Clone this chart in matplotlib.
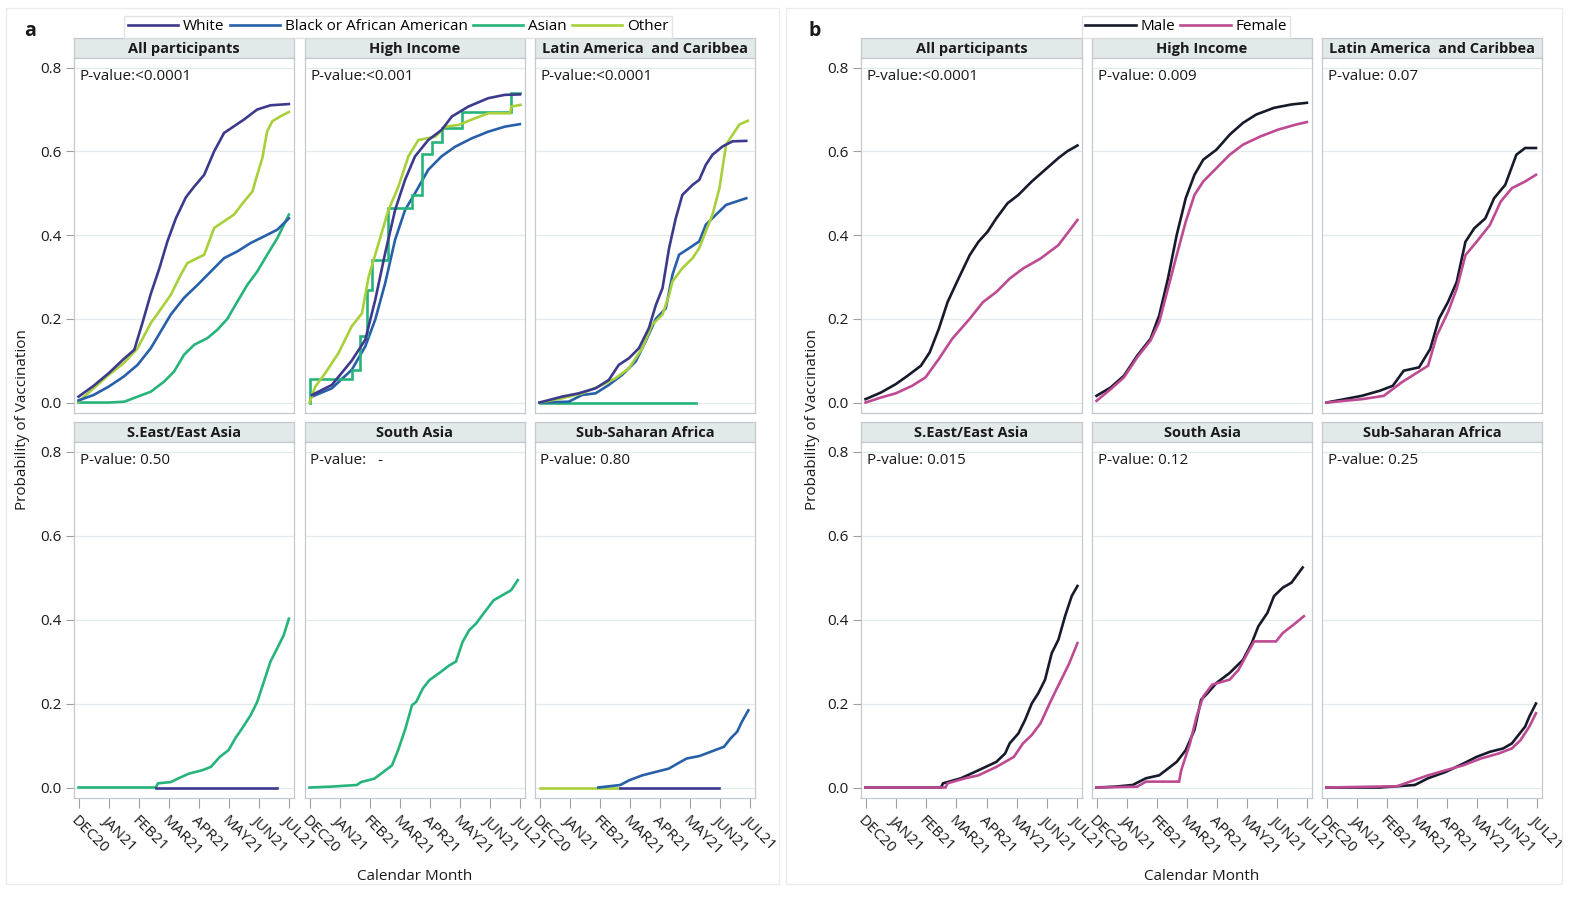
import matplotlib
matplotlib.use("Agg")
import matplotlib.pyplot as plt
from matplotlib.lines import Line2D
from matplotlib.patches import Rectangle

plt.rcParams['font.family'] = ['Open Sans', 'DejaVu Sans']

# ---------------- data (x = months since DEC20, y = probability) ----------------
month_labels = ["DEC20", "JAN21", "FEB21", "MAR21", "APR21", "MAY21", "JUN21", "JUL21"]
y_ticks = [0.0, 0.2, 0.4, 0.6, 0.8]

race_groups = ["White", "Black or African American", "Asian", "Other"]
race_colors = ["#3c3a8c", "#2760a9", "#27b47a", "#a7d03a"]
sex_groups = ["Male", "Female"]
sex_colors = ["#161a2b", "#bd4a92"]

region_titles = ["All participants", "High Income", "Latin America  and Caribbea",
                 "S.East/East Asia", "South Asia", "Sub-Saharan Africa"]
pvals_a = ["P-value:<0.0001", "P-value:<0.001", "P-value:<0.0001",
           "P-value: 0.50", "P-value:   -", "P-value: 0.80"]
pvals_b = ["P-value:<0.0001", "P-value: 0.009", "P-value: 0.07",
           "P-value: 0.015", "P-value: 0.12", "P-value: 0.25"]

# Panel a - All participants
a_all_white_m = [0, 0.5, 1, 1.5, 1.85, 2.12, 2.4, 2.68, 2.95, 3.23, 3.56, 3.84, 4.17, 4.5, 4.83, 5.16, 5.49, 5.93, 6.37, 6.98]
a_all_white_p = [0.014, 0.04, 0.07, 0.104, 0.126, 0.19, 0.26, 0.32, 0.385, 0.44, 0.49, 0.516, 0.544, 0.60, 0.644, 0.66, 0.676, 0.70, 0.71, 0.713]
a_all_black_m = [0, 0.5, 1.0, 1.5, 1.96, 2.4, 2.73, 3.06, 3.5, 3.95, 4.39, 4.83, 5.27, 5.71, 6.16, 6.6, 6.98]
a_all_black_p = [0.005, 0.018, 0.038, 0.062, 0.09, 0.13, 0.17, 0.21, 0.25, 0.281, 0.313, 0.345, 0.361, 0.381, 0.397, 0.413, 0.44]
a_all_asian_m = [0, 1.0, 1.52, 1.96, 2.4, 2.84, 3.17, 3.5, 3.84, 4.28, 4.61, 4.94, 5.27, 5.6, 5.93, 6.26, 6.6, 6.98]
a_all_asian_p = [0, 0, 0.002, 0.014, 0.026, 0.05, 0.074, 0.114, 0.138, 0.154, 0.174, 0.2, 0.241, 0.281, 0.313, 0.353, 0.393, 0.449]
a_all_other_m = [0, 0.5, 1, 1.5, 1.96, 2.4, 2.68, 3.06, 3.39, 3.61, 3.94, 4.17, 4.5, 4.83, 5.16, 5.49, 5.77, 5.93, 6.1, 6.26, 6.43, 6.71, 6.98]
a_all_other_p = [0.002, 0.034, 0.066, 0.094, 0.13, 0.19, 0.218, 0.257, 0.305, 0.333, 0.345, 0.353, 0.417, 0.433, 0.449, 0.48, 0.504, 0.544, 0.584, 0.648, 0.672, 0.684, 0.694]

# Panel a - High Income
a_hi_white_m = [0.08, 0.74, 1.4, 1.85, 2.18, 2.51, 2.84, 3.17, 3.5, 3.94, 4.38, 4.72, 5.27, 5.93, 6.48, 6.98]
a_hi_white_p = [0.018, 0.042, 0.1, 0.15, 0.245, 0.357, 0.46, 0.532, 0.588, 0.627, 0.651, 0.683, 0.707, 0.727, 0.735, 0.736]
a_hi_black_m = [0.08, 0.74, 1.4, 1.85, 2.18, 2.51, 2.84, 3.17, 3.5, 3.94, 4.38, 4.83, 5.38, 5.93, 6.48, 6.98]
a_hi_black_p = [0.014, 0.034, 0.078, 0.134, 0.198, 0.285, 0.389, 0.46, 0.5, 0.556, 0.588, 0.611, 0.631, 0.647, 0.659, 0.665]
a_hi_asian_m = [0, 0.02, 1.4, 1.68, 1.9, 2.07, 2.62, 3.39, 3.72, 4.05, 4.38, 5.05, 6.7, 6.98]
a_hi_asian_p = [0, 0.056, 0.078, 0.158, 0.269, 0.341, 0.464, 0.496, 0.593, 0.623, 0.655, 0.693, 0.739, 0.739]
a_hi_other_m = [0, 0.19, 0.52, 0.96, 1.4, 1.74, 1.96, 2.29, 2.62, 2.95, 3.28, 3.61, 4.17, 4.5, 4.94, 5.49, 5.93, 6.65, 6.7, 7.0]
a_hi_other_p = [0.0, 0.038, 0.07, 0.118, 0.182, 0.213, 0.3, 0.38, 0.46, 0.516, 0.588, 0.627, 0.635, 0.659, 0.663, 0.679, 0.691, 0.691, 0.707, 0.711]

# Panel a - Latin America and Caribbean
a_la_white_m = [0, 0.74, 1.3, 1.86, 2.3, 2.63, 2.97, 3.3, 3.63, 3.86, 4.08, 4.3, 4.52, 4.74, 5.08, 5.3, 5.52, 5.74, 6.08, 6.41, 6.86]
a_la_white_p = [0.0, 0.014, 0.022, 0.034, 0.054, 0.09, 0.106, 0.13, 0.178, 0.233, 0.273, 0.369, 0.44, 0.496, 0.52, 0.532, 0.568, 0.592, 0.612, 0.624, 0.625]
a_la_black_m = [0, 0.97, 1.41, 1.86, 2.3, 2.74, 3.19, 3.52, 3.86, 4.19, 4.41, 4.63, 4.97, 5.3, 5.52, 5.86, 6.19, 6.52, 6.86]
a_la_black_p = [0, 0.002, 0.018, 0.022, 0.042, 0.066, 0.098, 0.146, 0.2, 0.225, 0.305, 0.353, 0.369, 0.385, 0.425, 0.449, 0.472, 0.48, 0.488]
a_la_asian_m = [0, 5.19]
a_la_asian_p = [0, 0]
a_la_other_m = [0, 0.74, 1.41, 2.08, 2.52, 2.97, 3.41, 3.74, 4.08, 4.3, 4.41, 4.74, 5.08, 5.3, 5.52, 5.74, 5.97, 6.19, 6.41, 6.63, 6.91]
a_la_other_p = [0, 0.01, 0.022, 0.042, 0.058, 0.082, 0.13, 0.186, 0.21, 0.257, 0.289, 0.321, 0.345, 0.369, 0.409, 0.449, 0.512, 0.616, 0.64, 0.664, 0.673]

# Panel a - S.East/East Asia
a_sea_asian_m = [0, 2.56, 2.64, 3.07, 3.29, 3.66, 4.1, 4.39, 4.69, 4.98, 5.2, 5.42, 5.71, 5.93, 6.15, 6.37, 6.59, 6.81, 6.98]
a_sea_asian_p = [0, 0, 0.01, 0.013, 0.021, 0.033, 0.041, 0.049, 0.073, 0.089, 0.117, 0.14, 0.172, 0.204, 0.252, 0.3, 0.331, 0.363, 0.402]
a_sea_white_m = [2.56, 6.59]
a_sea_white_p = [0, 0]

# Panel a - South Asia
a_sa_asian_m = [0, 0.69, 1.57, 1.71, 2.15, 2.45, 2.74, 2.96, 3.18, 3.4, 3.54, 3.76, 3.98, 4.35, 4.64, 4.86, 5.08, 5.3, 5.52, 5.81, 6.11, 6.4, 6.69, 6.91]
a_sa_asian_p = [0, 0.002, 0.006, 0.013, 0.021, 0.037, 0.053, 0.093, 0.14, 0.196, 0.204, 0.236, 0.256, 0.275, 0.291, 0.3, 0.347, 0.375, 0.39, 0.418, 0.446, 0.458, 0.47, 0.494]

# Panel a - Sub-Saharan Africa
a_ssa_other_m = [0, 2.68]
a_ssa_other_p = [0, 0]
a_ssa_black_m = [1.95, 2.68, 2.97, 3.41, 3.85, 4.29, 4.58, 4.88, 5.31, 5.75, 6.12, 6.34, 6.56, 6.71, 6.93]
a_ssa_black_p = [0, 0.006, 0.017, 0.029, 0.037, 0.045, 0.057, 0.069, 0.075, 0.087, 0.097, 0.117, 0.133, 0.156, 0.184]
a_ssa_white_m = [2.68, 5.97]
a_ssa_white_p = [0, 0]

# Panel b - by sex
b_all_male_m = [0, 0.51, 1.0, 1.39, 1.83, 2.12, 2.42, 2.71, 3.07, 3.44, 3.73, 4.03, 4.32, 4.69, 5.05, 5.49, 5.93, 6.37, 6.66, 7.0]
b_all_male_p = [0.008, 0.024, 0.044, 0.064, 0.088, 0.12, 0.176, 0.24, 0.296, 0.352, 0.384, 0.408, 0.44, 0.476, 0.496, 0.528, 0.556, 0.584, 0.6, 0.614]
b_all_female_m = [0, 0.51, 1.0, 1.54, 1.98, 2.42, 2.86, 3.44, 3.88, 4.32, 4.76, 5.2, 5.78, 6.37, 7.0]
b_all_female_p = [0.0, 0.012, 0.022, 0.04, 0.06, 0.104, 0.152, 0.2, 0.24, 0.264, 0.296, 0.32, 0.344, 0.376, 0.436]

b_hi_male_m = [0, 0.47, 0.91, 1.35, 1.79, 2.08, 2.37, 2.66, 2.96, 3.25, 3.54, 3.98, 4.42, 4.86, 5.3, 5.89, 6.47, 6.98]
b_hi_male_p = [0.016, 0.036, 0.064, 0.112, 0.152, 0.208, 0.296, 0.4, 0.488, 0.544, 0.58, 0.604, 0.64, 0.668, 0.688, 0.704, 0.712, 0.716]
b_hi_female_m = [0, 0.47, 0.91, 1.35, 1.79, 2.08, 2.37, 2.66, 2.96, 3.25, 3.54, 3.98, 4.42, 4.86, 5.45, 6.03, 6.62, 6.98]
b_hi_female_p = [0.004, 0.032, 0.06, 0.108, 0.148, 0.192, 0.272, 0.352, 0.432, 0.496, 0.528, 0.56, 0.592, 0.616, 0.636, 0.652, 0.664, 0.67]

b_la_male_m = [0, 0.59, 1.17, 1.76, 2.2, 2.56, 3.07, 3.44, 3.73, 4.03, 4.32, 4.61, 4.9, 5.27, 5.56, 5.93, 6.3, 6.59, 6.95]
b_la_male_p = [0.0, 0.008, 0.016, 0.028, 0.04, 0.076, 0.084, 0.128, 0.2, 0.24, 0.288, 0.384, 0.416, 0.44, 0.488, 0.52, 0.592, 0.608, 0.608]
b_la_female_m = [0, 1.17, 1.9, 2.49, 2.93, 3.37, 3.66, 4.03, 4.32, 4.61, 4.98, 5.42, 5.78, 6.15, 6.59, 6.95]
b_la_female_p = [0, 0.008, 0.016, 0.048, 0.068, 0.088, 0.16, 0.216, 0.272, 0.352, 0.384, 0.424, 0.48, 0.512, 0.528, 0.544]

b_sea_male_m = [0, 2.49, 2.56, 3.15, 3.73, 4.32, 4.61, 4.76, 5.05, 5.27, 5.49, 5.71, 5.93, 6.15, 6.37, 6.59, 6.81, 7.0]
b_sea_male_p = [0, 0, 0.01, 0.022, 0.041, 0.061, 0.081, 0.105, 0.129, 0.161, 0.2, 0.225, 0.257, 0.32, 0.352, 0.408, 0.456, 0.48]
b_sea_female_m = [0, 2.64, 2.71, 3.29, 3.73, 4.32, 4.9, 5.2, 5.49, 5.78, 6.08, 6.3, 6.52, 6.73, 7.0]
b_sea_female_p = [0, 0, 0.01, 0.022, 0.029, 0.049, 0.073, 0.105, 0.125, 0.153, 0.2, 0.233, 0.265, 0.296, 0.344]

b_sa_male_m = [0, 0.61, 1.2, 1.64, 2.08, 2.37, 2.66, 2.96, 3.25, 3.47, 3.69, 3.98, 4.42, 4.86, 5.15, 5.37, 5.67, 5.89, 6.18, 6.47, 6.84]
b_sa_male_p = [0, 0.002, 0.006, 0.022, 0.029, 0.045, 0.061, 0.089, 0.137, 0.209, 0.225, 0.249, 0.273, 0.304, 0.344, 0.384, 0.416, 0.456, 0.476, 0.488, 0.524]
b_sa_female_m = [0, 1.35, 1.64, 2.74, 2.81, 3.1, 3.32, 3.54, 3.84, 4.42, 4.71, 5.01, 5.23, 5.96, 6.18, 6.54, 6.88]
b_sa_female_p = [0, 0.002, 0.014, 0.014, 0.041, 0.105, 0.169, 0.217, 0.245, 0.257, 0.28, 0.32, 0.348, 0.348, 0.368, 0.388, 0.408]

b_ssa_male_m = [0, 1.76, 2.34, 2.93, 3.37, 3.95, 4.54, 4.98, 5.42, 5.86, 6.15, 6.37, 6.59, 6.73, 6.95]
b_ssa_male_p = [0, 0, 0.003, 0.006, 0.022, 0.037, 0.057, 0.073, 0.085, 0.093, 0.105, 0.125, 0.145, 0.169, 0.2]
b_ssa_female_m = [0, 2.34, 2.93, 3.37, 3.95, 4.54, 5.12, 5.71, 6.15, 6.44, 6.73, 6.95]
b_ssa_female_p = [0, 0.003, 0.018, 0.029, 0.041, 0.053, 0.069, 0.081, 0.093, 0.113, 0.145, 0.177]

# curves per panel: (months, probs, color index, drawstyle)
panel_a_curves = [
    [(a_all_asian_m, a_all_asian_p, 2, 'default'), (a_all_other_m, a_all_other_p, 3, 'default'),
     (a_all_black_m, a_all_black_p, 1, 'default'), (a_all_white_m, a_all_white_p, 0, 'default')],
    [(a_hi_black_m, a_hi_black_p, 1, 'default'), (a_hi_asian_m, a_hi_asian_p, 2, 'steps-post'),
     (a_hi_other_m, a_hi_other_p, 3, 'default'), (a_hi_white_m, a_hi_white_p, 0, 'default')],
    [(a_la_asian_m, a_la_asian_p, 2, 'default'), (a_la_black_m, a_la_black_p, 1, 'default'),
     (a_la_other_m, a_la_other_p, 3, 'default'), (a_la_white_m, a_la_white_p, 0, 'default')],
    [(a_sea_asian_m, a_sea_asian_p, 2, 'default'), (a_sea_white_m, a_sea_white_p, 0, 'default')],
    [(a_sa_asian_m, a_sa_asian_p, 2, 'default')],
    [(a_ssa_other_m, a_ssa_other_p, 3, 'default'), (a_ssa_black_m, a_ssa_black_p, 1, 'default'),
     (a_ssa_white_m, a_ssa_white_p, 0, 'default')],
]
panel_b_curves = [
    [(b_all_male_m, b_all_male_p, 0, 'default'), (b_all_female_m, b_all_female_p, 1, 'default')],
    [(b_hi_male_m, b_hi_male_p, 0, 'default'), (b_hi_female_m, b_hi_female_p, 1, 'default')],
    [(b_la_male_m, b_la_male_p, 0, 'default'), (b_la_female_m, b_la_female_p, 1, 'default')],
    [(b_sea_male_m, b_sea_male_p, 0, 'default'), (b_sea_female_m, b_sea_female_p, 1, 'default')],
    [(b_sa_male_m, b_sa_male_p, 0, 'default'), (b_sa_female_m, b_sa_female_p, 1, 'default')],
    [(b_ssa_male_m, b_ssa_male_p, 0, 'default'), (b_ssa_female_m, b_ssa_female_p, 1, 'default')],
]

# ---------------- layout ----------------
W, H = 1585, 899
fig = plt.figure(figsize=(W / 100, H / 100), dpi=100)
fig.patch.set_facecolor('white')

FRAME = '#c3c9ce'
GRID = '#e4e9ee'
HEAD = '#e2e9e9'
TXT = '#1a1a1a'


def px_rect(x0, y0, x1, y1):
    return [x0 / W, 1 - y1 / H, (x1 - x0) / W, (y1 - y0) / H]


# faint outer boxes for the two figure parts
for bx0, bx1 in [(6, 779), (786, 1562)]:
    fig.patches.append(Rectangle((bx0 / W, 1 - 884 / H), (bx1 - bx0) / W, (884 - 8) / H,
                                 transform=fig.transFigure, fill=False,
                                 edgecolor='#ececec', linewidth=1.0))

row_y = [(58, 413), (442, 798)]
cols_a = [(74, 294), (305, 525), (535, 755)]
cols_b = [(861, 1082), (1092, 1312), (1322, 1542)]


def draw_group(cols, curves, colors, pvals):
    for i in range(6):
        r, c = divmod(i, 3)
        x0, x1 = cols[c]
        y0, y1 = row_y[r]
        # header strip
        hax = fig.add_axes(px_rect(x0, y0 - 20, x1, y0))
        hax.set_facecolor(HEAD)
        hax.set_xticks([]); hax.set_yticks([])
        for s in hax.spines.values():
            s.set_color(FRAME); s.set_linewidth(0.9)
        hax.text(0.5, 0.45, region_titles[i], ha='center', va='center',
                 fontsize=10.5, fontweight='bold', color=TXT, transform=hax.transAxes)
        ax = fig.add_axes(px_rect(x0, y0, x1, y1))
        ax.set_xlim(-0.15, 7.15)
        ax.set_ylim(-0.025, 0.823)
        ax.set_yticks(y_ticks)
        ax.grid(axis='y', color=GRID, linewidth=0.9)
        ax.set_axisbelow(True)
        for s in ax.spines.values():
            s.set_color(FRAME); s.set_linewidth(0.9)
        for (m, p, ci, ds) in curves[i]:
            ax.plot(m, p, color=colors[ci], lw=1.9, drawstyle=ds, solid_joinstyle='miter')
        ax.text(0.025, 0.97, pvals[i], transform=ax.transAxes, ha='left', va='top',
                fontsize=11, color=TXT)
        if c == 0:
            ax.set_yticklabels([f"{v:.1f}" for v in y_ticks], fontsize=11, color=TXT)
            ax.tick_params(axis='y', length=6, width=0.8, color='#9aa0a6', pad=3)
        else:
            ax.tick_params(axis='y', length=0, labelleft=False)
        if r == 1:
            ax.set_xticks(range(len(month_labels)))
            ax.set_xticklabels(month_labels, rotation=-45, ha='left',
                               rotation_mode='anchor', fontsize=11, color=TXT)
            ax.tick_params(axis='x', length=7, width=0.8, color='#9aa0a6', pad=4)
        else:
            ax.set_xticks([])


draw_group(cols_a, panel_a_curves, race_colors, pvals_a)
draw_group(cols_b, panel_b_curves, sex_colors, pvals_b)

# axis titles
for xc in [(74 + 755) / 2, (861 + 1542) / 2]:
    fig.text(xc / W, 1 - 876 / H, "Calendar Month", ha='center', va='center', fontsize=11, color=TXT)
for xl in [23, 812]:
    fig.text(xl / W, 1 - 420 / H, "Probability of Vaccination", ha='center', va='center',
             rotation=90, fontsize=11, color=TXT)

# panel letters
fig.text(30 / W, 1 - 31 / H, "a", ha='center', va='center', fontsize=14, fontweight='bold', color=TXT)
fig.text(815 / W, 1 - 31 / H, "b", ha='center', va='center', fontsize=14, fontweight='bold', color=TXT)

# legends
handles_a = [Line2D([], [], color=c, lw=1.9) for c in race_colors]
fig.legend(handles_a, race_groups, loc='center', bbox_to_anchor=(398 / W, 1 - 26.8 / H), ncol=4,
           fontsize=11, frameon=True, edgecolor='#dcdcdc', fancybox=False, handlelength=3.3,
           handletextpad=0.3, columnspacing=0.35, borderpad=0.22, borderaxespad=0)
handles_b = [Line2D([], [], color=c, lw=1.9) for c in sex_colors]
fig.legend(handles_b, sex_groups, loc='center', bbox_to_anchor=(1186 / W, 1 - 26.8 / H), ncol=2,
           fontsize=11, frameon=True, edgecolor='#dcdcdc', fancybox=False, handlelength=3.3,
           handletextpad=0.3, columnspacing=0.35, borderpad=0.22, borderaxespad=0)

fig.savefig("out.png", dpi=100, facecolor='white')
